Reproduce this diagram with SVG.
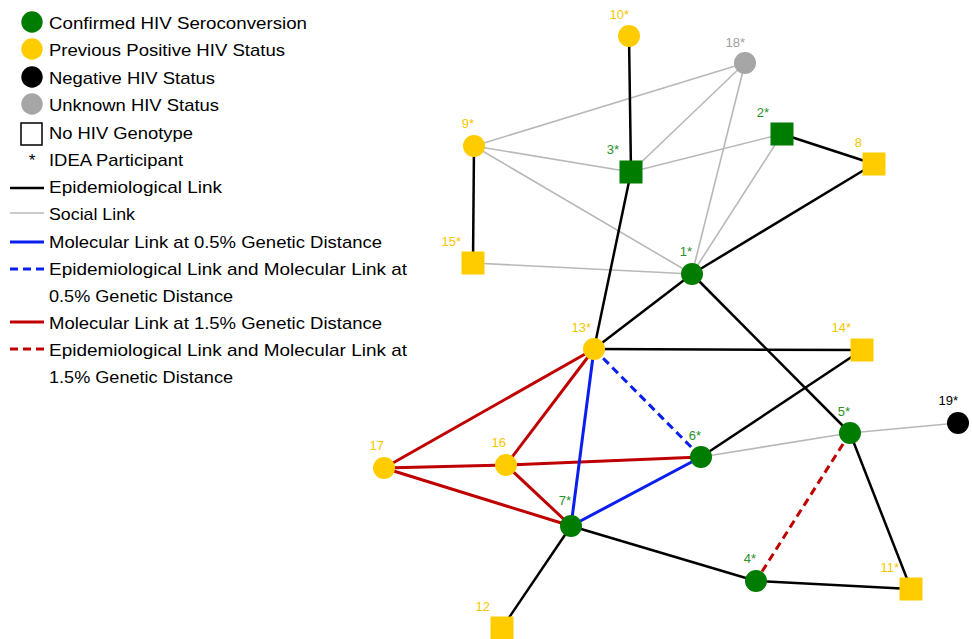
<svg xmlns="http://www.w3.org/2000/svg" width="972" height="639" viewBox="0 0 972 639">
<style>
.lg{font-family:"Liberation Sans",Arial,sans-serif;font-size:17px;fill:#000}
.lb{font-family:"Liberation Sans",Arial,sans-serif;font-size:13px;text-anchor:end}
.g{fill:#007c00}.y{fill:#ffcc00}.k{fill:#000}.u{fill:#a6a6a6}
.tg{fill:#2b8f2b}.ty{fill:#f7c600}.tk{fill:#000}.tu{fill:#a0a0a0}
.epi{stroke:#000;stroke-width:2.5;fill:none}
.soc{stroke:#b8b8b8;stroke-width:1.6;fill:none}
.blu{stroke:#0a1ef0;stroke-width:3;fill:none}
.red{stroke:#c00000;stroke-width:3;fill:none}
.dash{stroke-dasharray:8 5}
</style>
<rect width="972" height="639" fill="#fff"/>
<g id="legend">
<circle cx="32" cy="22" r="10.7" class="g"/>
<circle cx="32" cy="49" r="10.7" class="y"/>
<circle cx="32" cy="77" r="10.7" class="k"/>
<circle cx="32" cy="104" r="10.7" class="u"/>
<rect x="21" y="123" width="21" height="22" fill="#fff" stroke="#000" stroke-width="1.5"/>
<text x="32" y="166" class="lg" text-anchor="middle">*</text>
<line x1="10" y1="188" x2="44" y2="188" class="epi" stroke-width="3"/>
<line x1="10" y1="213" x2="44" y2="213" class="soc" stroke-width="2.5"/>
<line x1="10" y1="242" x2="44" y2="242" class="blu"/>
<line x1="10" y1="269" x2="44" y2="269" class="blu dash"/>
<line x1="10" y1="322" x2="44" y2="322" class="red"/>
<line x1="10" y1="349" x2="44" y2="349" class="red dash"/>
<text x="49" y="29" class="lg" textLength="258" lengthAdjust="spacingAndGlyphs">Confirmed HIV Seroconversion</text>
<text x="49" y="56" class="lg" textLength="236" lengthAdjust="spacingAndGlyphs">Previous Positive HIV Status</text>
<text x="49" y="84" class="lg" textLength="166" lengthAdjust="spacingAndGlyphs">Negative HIV Status</text>
<text x="49" y="111" class="lg" textLength="170" lengthAdjust="spacingAndGlyphs">Unknown HIV Status</text>
<text x="49" y="139" class="lg" textLength="144" lengthAdjust="spacingAndGlyphs">No HIV Genotype</text>
<text x="49" y="166" class="lg" textLength="134" lengthAdjust="spacingAndGlyphs">IDEA Participant</text>
<text x="49" y="193" class="lg" textLength="173" lengthAdjust="spacingAndGlyphs">Epidemiological Link</text>
<text x="49" y="220" class="lg" textLength="86" lengthAdjust="spacingAndGlyphs">Social Link</text>
<text x="49" y="248" class="lg" textLength="333" lengthAdjust="spacingAndGlyphs">Molecular Link at 0.5% Genetic Distance</text>
<text x="49" y="275" class="lg" textLength="358" lengthAdjust="spacingAndGlyphs">Epidemiological Link and Molecular Link at</text>
<text x="49" y="302" class="lg" textLength="184" lengthAdjust="spacingAndGlyphs">0.5% Genetic Distance</text>
<text x="49" y="329" class="lg" textLength="333" lengthAdjust="spacingAndGlyphs">Molecular Link at 1.5% Genetic Distance</text>
<text x="49" y="356" class="lg" textLength="358" lengthAdjust="spacingAndGlyphs">Epidemiological Link and Molecular Link at</text>
<text x="49" y="383" class="lg" textLength="184" lengthAdjust="spacingAndGlyphs">1.5% Genetic Distance</text>
</g>
<g id="connectors">
<line x1="745" y1="63" x2="474" y2="146" class="soc"/>
<line x1="745" y1="63" x2="631" y2="172" class="soc"/>
<line x1="745" y1="63" x2="692" y2="274" class="soc"/>
<line x1="474" y1="146" x2="631" y2="172" class="soc"/>
<line x1="474" y1="146" x2="692" y2="274" class="soc"/>
<line x1="631" y1="172" x2="782" y2="134" class="soc"/>
<line x1="782" y1="134" x2="692" y2="274" class="soc"/>
<line x1="473" y1="263" x2="692" y2="274" class="soc"/>
<line x1="701" y1="457" x2="850" y2="433" class="soc"/>
<line x1="850" y1="433" x2="958" y2="423" class="soc"/>
<line x1="629" y1="36" x2="631" y2="172" class="epi"/>
<line x1="474" y1="146" x2="473" y2="263" class="epi"/>
<line x1="782" y1="134" x2="874" y2="164" class="epi"/>
<line x1="874" y1="164" x2="692" y2="274" class="epi"/>
<line x1="631" y1="172" x2="594" y2="349" class="epi"/>
<line x1="692" y1="274" x2="594" y2="349" class="epi"/>
<line x1="692" y1="274" x2="850" y2="433" class="epi"/>
<line x1="594" y1="349" x2="862" y2="350" class="epi"/>
<line x1="862" y1="350" x2="701" y2="457" class="epi"/>
<line x1="850" y1="433" x2="911" y2="589" class="epi"/>
<line x1="571" y1="526" x2="756" y2="581" class="epi"/>
<line x1="756" y1="581" x2="911" y2="589" class="epi"/>
<line x1="571" y1="526" x2="502" y2="628" class="epi"/>
<line x1="594" y1="349" x2="384" y2="468" class="red"/>
<line x1="594" y1="349" x2="506" y2="465" class="red"/>
<line x1="384" y1="468" x2="506" y2="465" class="red"/>
<line x1="506" y1="465" x2="701" y2="457" class="red"/>
<line x1="384" y1="468" x2="571" y2="526" class="red"/>
<line x1="506" y1="465" x2="571" y2="526" class="red"/>
<line x1="594" y1="349" x2="571" y2="526" class="blu"/>
<line x1="571" y1="526" x2="701" y2="457" class="blu"/>
<line x1="594" y1="349" x2="701" y2="457" class="blu dash"/>
<line x1="850" y1="433" x2="756" y2="581" class="red dash"/>
</g>
<g id="n10"><circle cx="629" cy="36" r="11" class="y"/><text x="629" y="19" class="lb ty">10*</text></g>
<g id="n18"><circle cx="745" cy="63" r="11" class="u"/><text x="745" y="47" class="lb tu">18*</text></g>
<g id="n9"><circle cx="474" cy="146" r="11" class="y"/><text x="474" y="128" class="lb ty">9*</text></g>
<g id="n3"><rect x="619.5" y="160.5" width="23" height="23" class="g"/><text x="619" y="154" class="lb tg">3*</text></g>
<g id="n2"><rect x="770.5" y="122.5" width="23" height="23" class="g"/><text x="769" y="117" class="lb tg">2*</text></g>
<g id="n8"><rect x="862.5" y="152.5" width="23" height="23" class="y"/><text x="862" y="147" class="lb ty">8</text></g>
<g id="n15"><rect x="461.5" y="251.5" width="23" height="23" class="y"/><text x="461" y="246" class="lb ty">15*</text></g>
<g id="n1"><circle cx="692" cy="274" r="11" class="g"/><text x="692" y="256" class="lb tg">1*</text></g>
<g id="n13"><circle cx="594" cy="349" r="11" class="y"/><text x="591" y="332" class="lb ty">13*</text></g>
<g id="n14"><rect x="850.5" y="338.5" width="23" height="23" class="y"/><text x="851" y="332" class="lb ty">14*</text></g>
<g id="n5"><circle cx="850" cy="433" r="11" class="g"/><text x="850" y="416" class="lb tg">5*</text></g>
<g id="n19"><circle cx="958" cy="423" r="11" class="k"/><text x="958" y="405" class="lb tk">19*</text></g>
<g id="n6"><circle cx="701" cy="457" r="11" class="g"/><text x="701" y="440" class="lb tg">6*</text></g>
<g id="n16"><circle cx="506" cy="465" r="11" class="y"/><text x="506" y="447" class="lb ty">16</text></g>
<g id="n17"><circle cx="384" cy="468" r="11" class="y"/><text x="384" y="450" class="lb ty">17</text></g>
<g id="n7"><circle cx="571" cy="526" r="11" class="g"/><text x="571" y="505" class="lb tg">7*</text></g>
<g id="n4"><circle cx="756" cy="581" r="11" class="g"/><text x="756" y="563" class="lb tg">4*</text></g>
<g id="n11"><rect x="899.5" y="577.5" width="23" height="23" class="y"/><text x="899" y="572" class="lb ty">11*</text></g>
<g id="n12"><rect x="490.5" y="616.5" width="23" height="23" class="y"/><text x="490" y="611" class="lb ty">12</text></g>
</svg>
